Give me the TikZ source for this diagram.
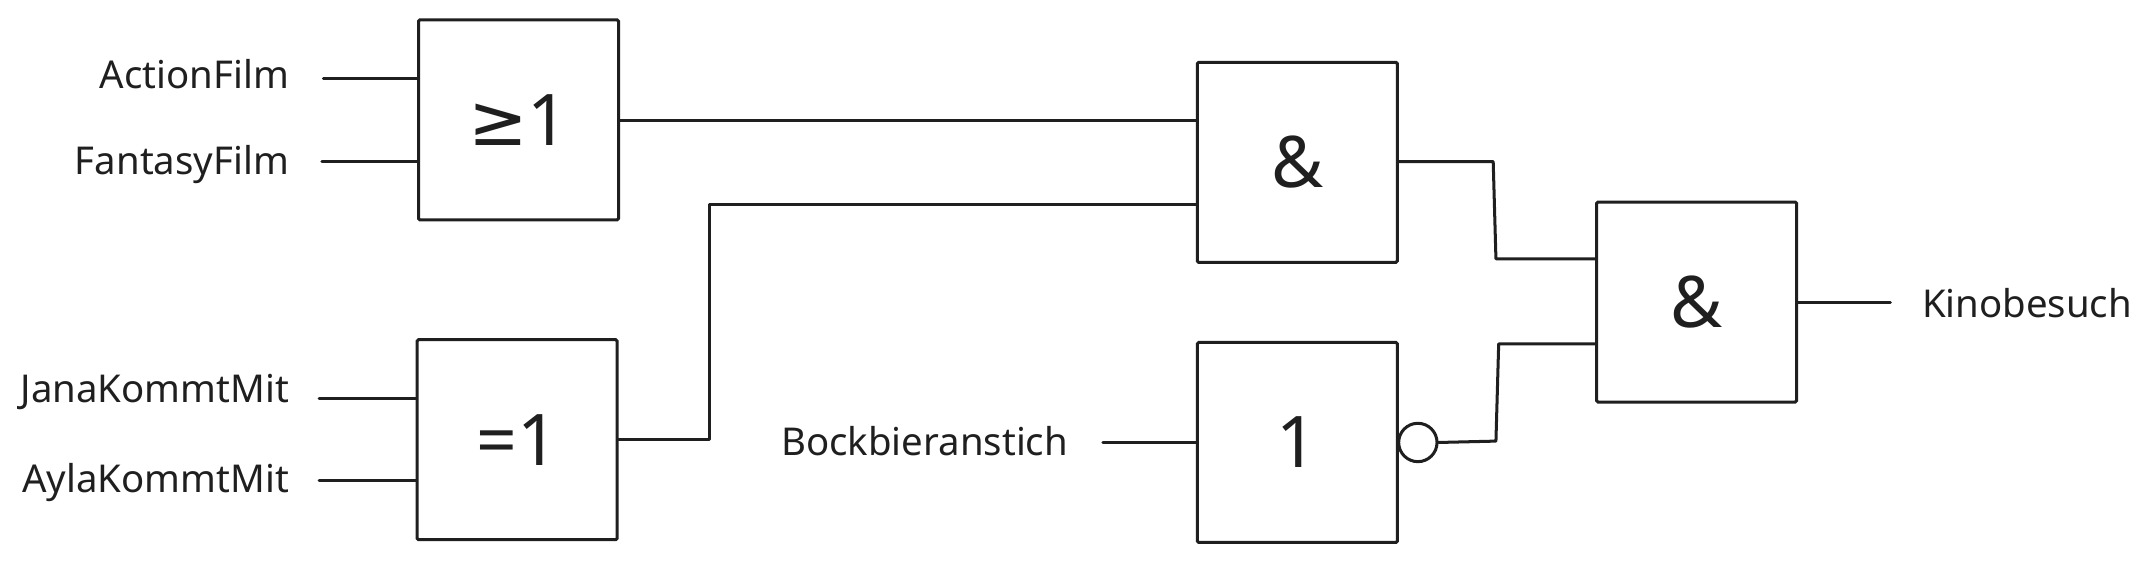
\documentclass[tikz,border=0pt]{standalone}
\usepackage{fontspec}
\setmainfont{Noto Sans}
\newfontfamily\djv{DejaVu Sans}
\begin{document}
\begin{tikzpicture}[x=0.5pt,y=-0.5pt,line width=1.1pt,color={black!88},
  gate/.style={draw,minimum width=73pt,minimum height=73pt,inner sep=0pt,font=\fontsize{26}{28}\selectfont,rounded corners=0.5pt},
  lbl/.style={font=\fontsize{14}{16}\selectfont,inner sep=0pt},
  w/.style={line cap=round,line join=round}]
\useasboundingbox (0,0) rectangle (1568,411);
\node[gate] (or) at (378.5,87.5) {{\djv ≥}1};
\node[gate] (xor) at (377.5,321) {=1};
\node[gate] (and1) at (947,118.5) {\&};
\node[gate] (not) at (947,323) {1};
\node[gate] (and2) at (1238.5,220.5) {\&};
\node[lbl,anchor=east] (a) at (212,54) {ActionFilm};
\node[lbl,anchor=east] (f) at (212,120) {FantasyFilm};
\node[lbl,anchor=east] (j) at (212,286) {JanaKommtMit};
\node[lbl,anchor=east] (y) at (212,352) {AylaKommtMit};
\node[lbl] (b) at (675,322) {Bockbieranstich};
\node[lbl,anchor=west] (k) at (1402,221) {Kinobesuch};
\coordinate (a0) at (236,57); \coordinate (f0) at (235,118);
\coordinate (j0) at (233,291); \coordinate (y0) at (233,351);
\coordinate (b0) at (805,323);
\draw[w] (a0) -- (a0 -| or.west);
\draw[w] (f0) -- (f0 -| or.west);
\draw[w] (j0) -- (j0 -| xor.west);
\draw[w] (y0) -- (y0 -| xor.west);
\draw[w] (b0) -- (b0 -| not.west);
\draw[w] (or.east |- 0,88) -- (and1.west |- 0,88);
\coordinate (x1) at (518,321); \coordinate (x2) at (518,149);
\draw[w] (xor.east |- x1) -- (x1) -- (x2) -- (and1.west |- x2);
\node[draw,circle,minimum size=14pt,inner sep=0pt,line width=1.1pt] (bub) at (1035,323) {};
\coordinate (n1) at (1092,322); \coordinate (n2) at (1094,251);
\draw[w] (bub.east) -- (n1) -- (n2) -- (and2.west |- n2);
\coordinate (m1) at (1090,118); \coordinate (m2) at (1092,189);
\draw[w] (and1.east |- m1) -- (m1) -- (m2) -- (and2.west |- m2);
\draw[w] (and2.east |- 0,221) -- (1380,221);
\end{tikzpicture}
\end{document}
